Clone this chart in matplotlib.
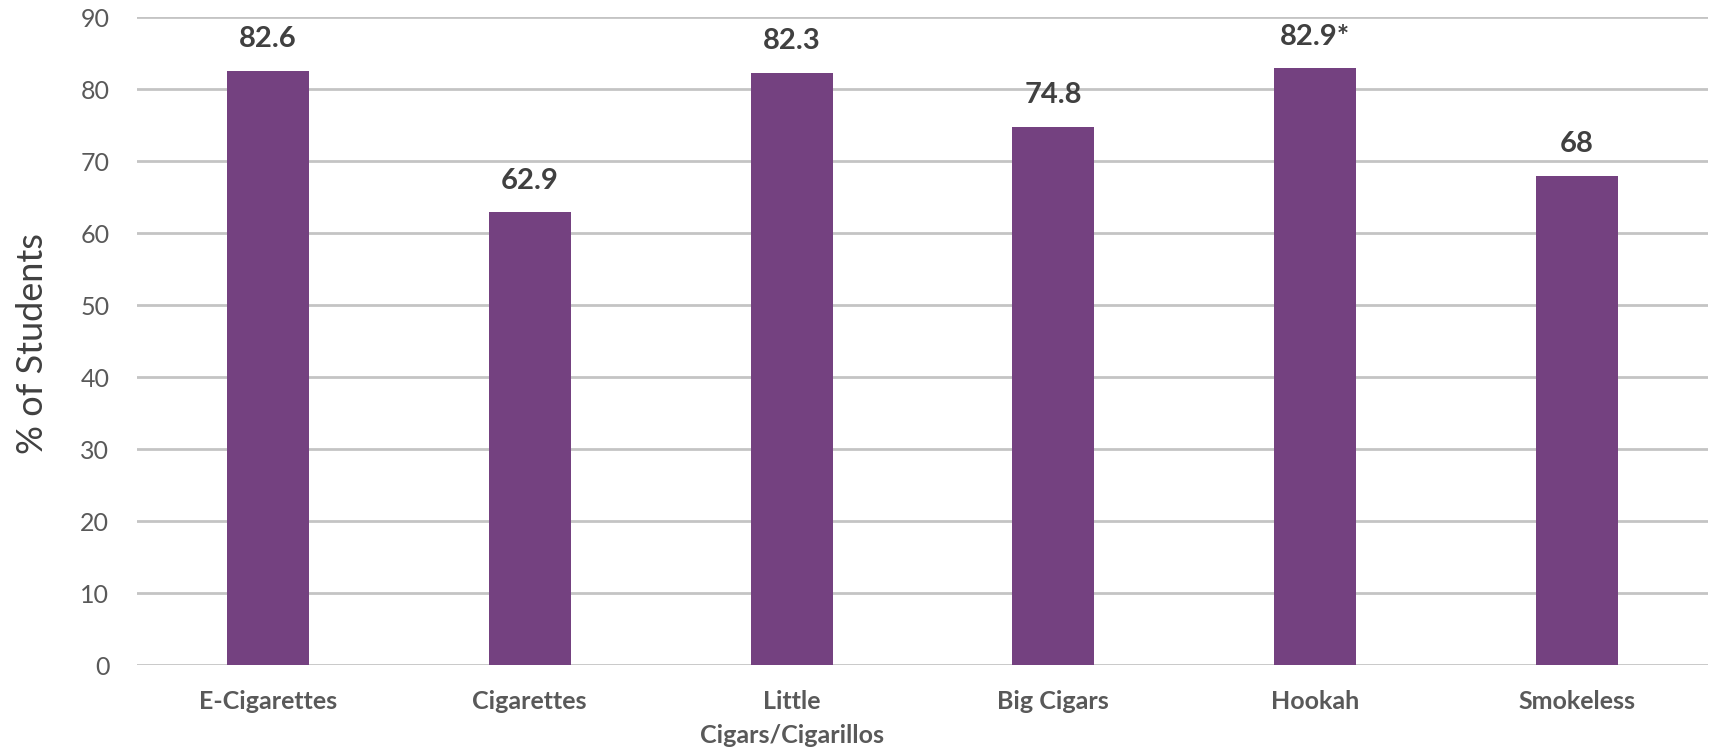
import numpy as np
import matplotlib.pyplot as plt

plt.rcParams['font.family'] = ['Lato', 'DejaVu Sans']

categories = ['E-Cigarettes', 'Cigarettes', 'Little\nCigars/Cigarillos', 'Big Cigars', 'Hookah', 'Smokeless']
values = [82.6, 62.9, 82.3, 74.8, 82.9, 68]
value_labels = ['82.6', '62.9', '82.3', '74.8', '82.9*', '68']

bar_color = '#744180'
grid_color = '#c4c4c4'
text_gray = '#595959'
label_dark = '#404040'

fig = plt.figure(figsize=[17.13, 7.55], dpi=100)
ax = fig.add_axes([0.080, 0.119, 0.917, 0.858])

x = np.arange(len(categories))
ax.bar(x, values, width=0.313, color=bar_color, zorder=3)

# value labels above bars
for i in range(len(values)):
    ax.text(x[i], values[i] + 2.6, value_labels[i], ha='center', va='bottom',
            fontsize=21, fontweight='bold', color=label_dark)

ax.set_xlim(-0.5, len(categories) - 0.5)
ax.set_ylim(0, 90)
ax.set_yticks(np.arange(0, 91, 10))
ax.yaxis.grid(True, color=grid_color, linewidth=2, zorder=0)
ax.set_axisbelow(True)
for s in ax.spines.values():
    s.set_visible(False)

ax.set_xticks(x)
ax.set_xticklabels(categories, fontsize=18, fontweight='bold', color=text_gray,
                   linespacing=1.55, va='top')
ax.tick_params(axis='x', length=0, pad=18)
ax.tick_params(axis='y', length=0, pad=20, labelsize=18, labelcolor=text_gray)

fig.text(0.019, 0.545, '% of Students', rotation=90, ha='center', va='center',
         fontsize=26, color='#404040')

fig.savefig('out.png', dpi=100)
